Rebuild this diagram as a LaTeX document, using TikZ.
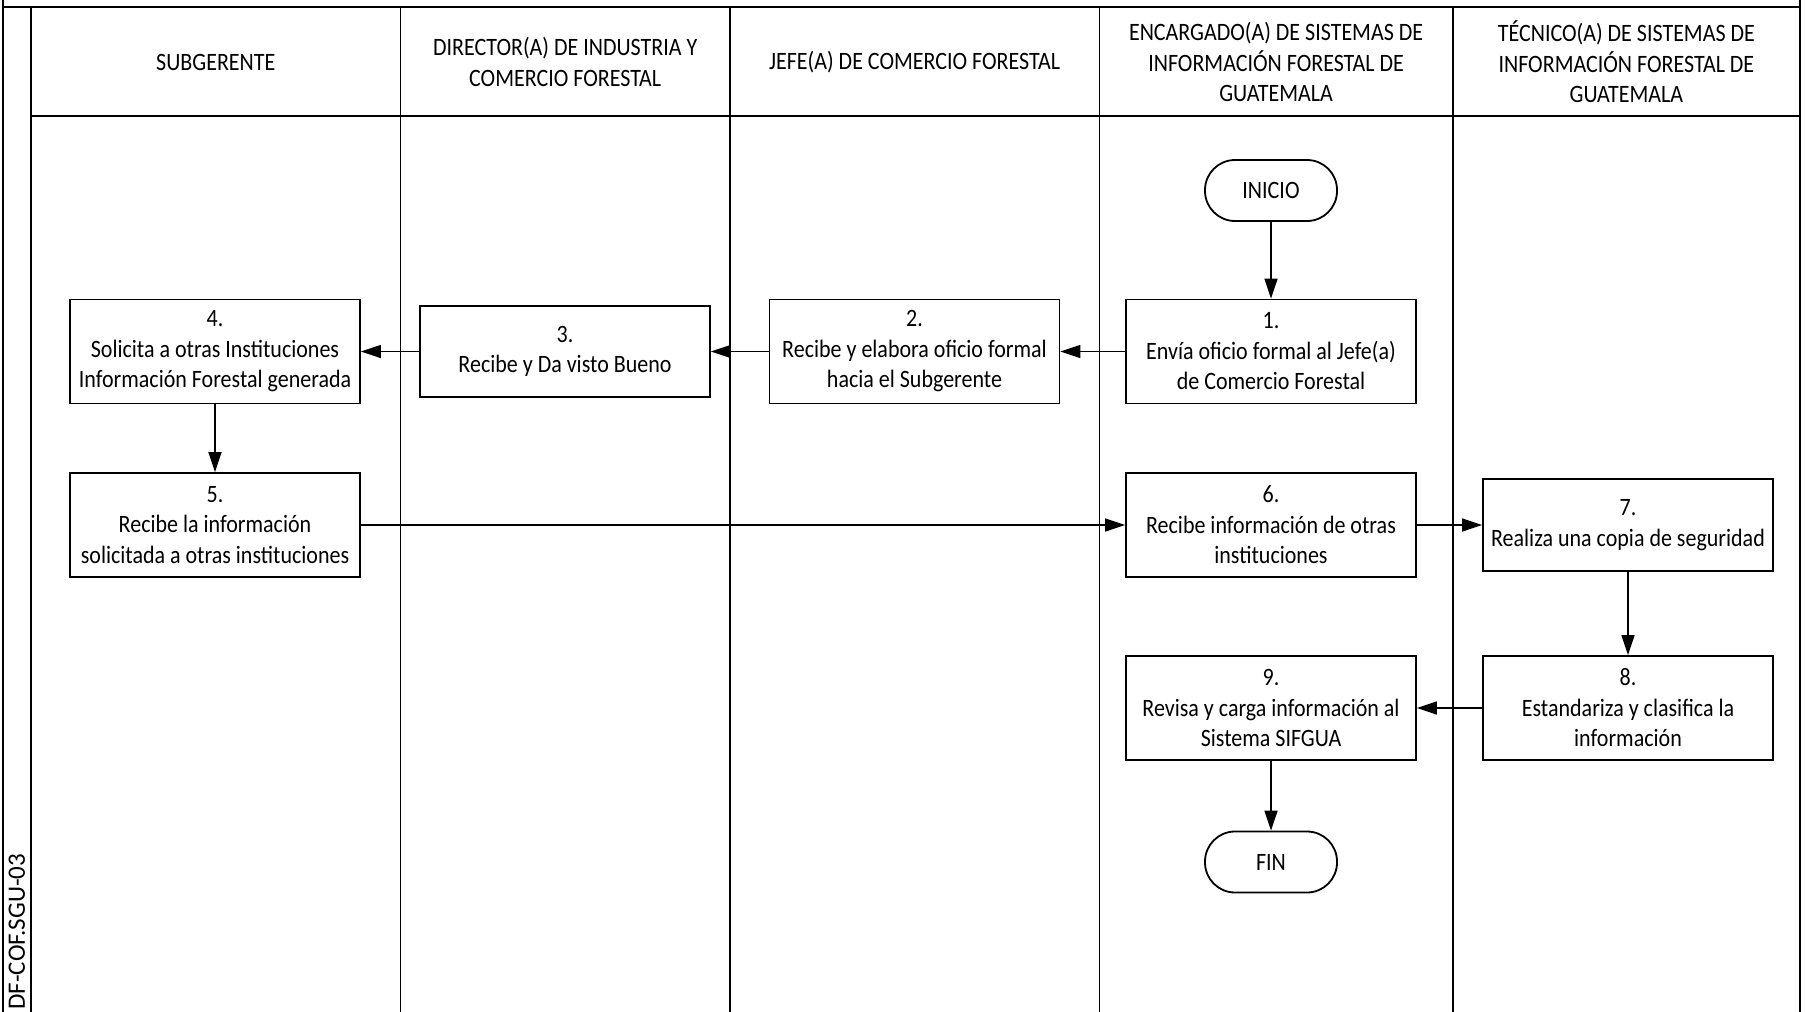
\documentclass[tikz,border=0pt]{standalone}
\usepackage{fontspec}
\setmainfont{Carlito}[FakeStretch=0.88]
\newfontfamily\codefont{Carlito}
\usetikzlibrary{arrows.meta}

\begin{document}
\begin{tikzpicture}[x=0.5pt,y=-0.5pt,
  every node/.style={font=\fontsize{12.5pt}{15.25pt}\selectfont, align=center, inner sep=0pt},
  frameline/.style={line width=1pt},
  laneline/.style={line width=0.8pt},
  stepbox/.style={draw, line width=0.9pt, minimum width=145pt, minimum height=52pt},
  term/.style={draw, line width=0.9pt, rounded corners=15pt, minimum width=66pt, minimum height=30.5pt},
  flow/.style={line width=0.8pt, -{Triangle[length=10pt,width=6.5pt]}}]

\useasboundingbox (0,0) rectangle (1805,1012);

% outer frame
\draw[frameline] (3,0) -- (3,1012);
\draw[frameline] (1800,0) -- (1800,1012);
\draw[frameline] (3,7) -- (1800,7);
\draw[frameline] (31,7) -- (31,1012);
\draw[laneline] (31,116) -- (1800,116);

% lane separators
\foreach \lx in {400.6,729.9,1099.4,1452.8}
  \draw[laneline] (\lx,7) -- (\lx,1012);

% lane headers
\node (h1) at (215.8,62) {SUBGERENTE};
\node (h2) at (565.2,62) {DIRECTOR(A) DE INDUSTRIA Y\\COMERCIO FORESTAL};
\node (h3) at (914.6,62) {JEFE(A) DE COMERCIO FORESTAL};
\node (h4) at (1276.1,62) {ENCARGADO(A) DE SISTEMAS DE\\INFORMACIÓN FORESTAL DE\\GUATEMALA};
\node (h5) at (1626.4,62) {TÉCNICO(A) DE SISTEMAS DE\\INFORMACIÓN FORESTAL DE\\GUATEMALA};

% document code
\node[rotate=90, anchor=base west, font=\codefont\fontsize{12.5pt}{15pt}\selectfont] (code) at (25,1010) {DF-COF.SGU-03};

% process steps
\node[term] (ini) at (1271,190.5) {INICIO};
\node[stepbox] (s1) at (1271,351.5) {1.\\Envía oficio formal al Jefe(a)\\de Comercio Forestal};
\node[stepbox] (s2) at (914.5,351.5) {2.\\Recibe y elabora oficio formal\\hacia el Subgerente};
\node[stepbox, minimum height=45.5pt] (s3) at (565,351.5) {3.\\Recibe y Da visto Bueno};
\node[stepbox] (s4) at (215,351.5) {4.\\Solicita a otras Instituciones\\Información Forestal generada};
\node[stepbox] (s5) at (215,525) {5.\\Recibe la información\\solicitada a otras instituciones};
\node[stepbox] (s6) at (1271,525) {6.\\Recibe información de otras\\instituciones};
\node[stepbox, minimum height=46pt] (s7) at (1628,525) {7.\\Realiza una copia de seguridad};
\node[stepbox] (s8) at (1628,708) {8.\\Estandariza y clasifica la\\información};
\node[stepbox] (s9) at (1271,708) {9.\\Revisa y carga información al\\Sistema SIFGUA};
\node[term] (fin) at (1271,862) {FIN};

% connectors
\draw[flow] (ini) -- (s1);
\draw[flow] (s1) -- (s2);
\draw[flow] (s2) -- (s3);
\draw[flow] (s3) -- (s4);
\draw[flow] (s4) -- (s5);
\draw[flow] (s5) -- (s6);
\draw[flow] (s6) -- (s7);
\draw[flow] (s7) -- (s8);
\draw[flow] (s8) -- (s9);
\draw[flow] (s9) -- (fin);
\end{tikzpicture}
\end{document}
